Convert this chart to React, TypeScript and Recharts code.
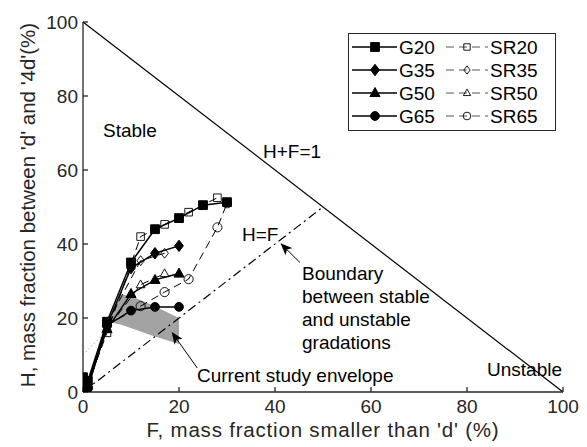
import { Area, ComposedChart, Line, ReferenceLine, XAxis, YAxis } from 'recharts'

const font = '"Liberation Sans", Arial, sans-serif'
const ink = '#262626'

const ticks = [0, 20, 40, 60, 80, 100]

// G series (solid lines, filled markers)
const g20 = [
  { F: 0, H: 4 },
  { F: 1, H: 3 },
  { F: 5, H: 19 },
  { F: 10, H: 35 },
  { F: 15, H: 44 },
  { F: 20, H: 47 },
  { F: 25, H: 50.5 },
  { F: 30, H: 51.3 },
]
const g35 = [
  { F: 0, H: 3 },
  { F: 1, H: 2 },
  { F: 5, H: 18 },
  { F: 10, H: 33.5 },
  { F: 15, H: 37.5 },
  { F: 20, H: 39.5 },
]
const g50 = [
  { F: 0, H: 2 },
  { F: 1, H: 2 },
  { F: 5, H: 17 },
  { F: 10, H: 26.5 },
  { F: 15, H: 30.3 },
  { F: 20, H: 32 },
]
const g65 = [
  { F: 0, H: 1 },
  { F: 1, H: 1 },
  { F: 5, H: 18 },
  { F: 10, H: 22 },
  { F: 15, H: 23 },
  { F: 20, H: 23 },
]

// SR series (dashed lines, open markers)
const sr20 = [
  { F: 1, H: 2 },
  { F: 5, H: 16 },
  { F: 12, H: 42 },
  { F: 17, H: 45.3 },
  { F: 22, H: 48.6 },
  { F: 28, H: 52.5 },
]
const sr35 = [
  { F: 1, H: 1.5 },
  { F: 5, H: 18.5 },
  { F: 12, H: 35.5 },
  { F: 17, H: 37.5 },
]
const sr50 = [
  { F: 1, H: 1.5 },
  { F: 5, H: 17 },
  { F: 12, H: 29 },
  { F: 17, H: 32 },
]
const sr65 = [
  { F: 1, H: 1 },
  { F: 5, H: 18 },
  { F: 12, H: 23.2 },
  { F: 17, H: 27 },
  { F: 22, H: 30.5 },
  { F: 28, H: 44.5 },
  { F: 30, H: 51 },
]

// current study envelope: [lower, upper] H at each F
const envelope = [
  { F: 5, range: [19, 19] },
  { F: 8, range: [18.2, 26.5] },
  { F: 11, range: [16.8, 25.4] },
  { F: 14, range: [15.4, 23.7] },
  { F: 17, range: [14.2, 21.9] },
  { F: 20, range: [13, 20] },
]

type Shape = 'square' | 'diamond' | 'triangle' | 'circle'

const series: { name: string; data: { F: number; H: number }[]; shape: Shape; filled: boolean }[] = [
  { name: 'G20', data: g20, shape: 'square', filled: true },
  { name: 'SR20', data: sr20, shape: 'square', filled: false },
  { name: 'G35', data: g35, shape: 'diamond', filled: true },
  { name: 'SR35', data: sr35, shape: 'diamond', filled: false },
  { name: 'G50', data: g50, shape: 'triangle', filled: true },
  { name: 'SR50', data: sr50, shape: 'triangle', filled: false },
  { name: 'G65', data: g65, shape: 'circle', filled: true },
  { name: 'SR65', data: sr65, shape: 'circle', filled: false },
]

function Mark({ shape, cx, cy, filled, s }: { shape: Shape; cx: number; cy: number; filled: boolean; s: number }) {
  const fill = filled ? '#000' : 'none'
  const stroke = '#000'
  const sw = filled ? 1 : 0.9
  if (shape === 'circle') return <circle cx={cx} cy={cy} r={filled ? s : s * 1.2} fill={fill} stroke={stroke} strokeWidth={sw} />
  let d = ''
  if (shape === 'square') d = `M${cx - s},${cy - s}h${2 * s}v${2 * s}h${-2 * s}z`
  if (shape === 'diamond') d = `M${cx},${cy - s * 1.3}L${cx + s},${cy}L${cx},${cy + s * 1.3}L${cx - s},${cy}z`
  if (shape === 'triangle') d = `M${cx},${cy - s * 1.25}L${cx + s * 1.15},${cy + s * 0.8}L${cx - s * 1.15},${cy + s * 0.8}z`
  return <path d={d} fill={fill} stroke={stroke} strokeWidth={sw} />
}

function LegendBox() {
  const rows = [
    ['G20', 'SR20', 'square'],
    ['G35', 'SR35', 'diamond'],
    ['G50', 'SR50', 'triangle'],
    ['G65', 'SR65', 'circle'],
  ] as const
  return (
    <g>
      <rect x={348.5} y={33.5} width={207} height={97} fill="#fff" stroke={ink} strokeWidth={1} />
      {rows.map(([g, sr, shape], i) => {
        const y = 47 + i * 23
        return (
          <g key={g}>
            <line x1={352} x2={397} y1={y} y2={y} stroke="#000" strokeWidth={1.4} />
            <Mark shape={shape} cx={375} cy={y} filled s={4.4} />
            <text x={399} y={y} dy="0.35em" fontSize={19} fontFamily={font} fill="#000">
              {g}
            </text>
            <line x1={446} x2={488} y1={y} y2={y} stroke="#555" strokeWidth={1} strokeDasharray="8 5" />
            <Mark shape={shape} cx={467} cy={y} filled={false} s={3.2} />
            <text x={490} y={y} dy="0.35em" fontSize={19} fontFamily={font} fill="#000">
              {sr}
            </text>
          </g>
        )
      })}
    </g>
  )
}

const txt = { fontSize: 19, fontFamily: font, fill: '#000' }

export default function App() {
  return (
    <div style={{ position: 'absolute', left: 0, top: 0, width: 587, height: 447, background: '#fff' }}>
      <ComposedChart width={587} height={447} margin={{ top: 22, right: 24, bottom: 0, left: 0 }}>
        <defs>
          <marker id="arrow" viewBox="0 0 12 10" refX="11" refY="5" markerWidth="12" markerHeight="10" markerUnits="userSpaceOnUse" orient="auto">
            <path d="M0,0 L12,5 L0,10 L3,5 z" fill="#000" />
          </marker>
        </defs>
        <XAxis
          type="number"
          dataKey="F"
          domain={[0, 100]}
          ticks={ticks}
          height={55}
          tickSize={-5}
          tickMargin={13}
          stroke={ink}
          strokeWidth={1.3}
          tick={{ fill: ink, fontSize: 19, fontFamily: font }}
          allowDataOverflow
        />
        <XAxis xAxisId="top" orientation="top" type="number" dataKey="F" domain={[0, 100]} ticks={ticks} height={0} tickSize={-5} tick={false} stroke={ink} strokeWidth={1.3} />
        <YAxis
          type="number"
          domain={[0, 100]}
          ticks={ticks}
          width={83}
          tickSize={-5}
          tickMargin={10}
          stroke={ink}
          strokeWidth={1.3}
          tick={{ fill: ink, fontSize: 19, fontFamily: font }}
          allowDataOverflow
        />
        <YAxis yAxisId="right" orientation="right" type="number" domain={[0, 100]} ticks={ticks} width={0} tickSize={-5} tick={false} stroke={ink} strokeWidth={1.3} />

        <Area data={envelope} dataKey="range" type="linear" fill="#a3a3a3" fillOpacity={1} stroke="none" isAnimationActive={false} dot={false} activeDot={false} />

        <ReferenceLine segment={[{ x: 0, y: 100 }, { x: 100, y: 0 }]} stroke="#000" strokeWidth={1.2} />
        <ReferenceLine segment={[{ x: 0, y: 0 }, { x: 50, y: 50 }]} stroke="#000" strokeWidth={1.2} strokeDasharray="9 4 2 4" />
        <ReferenceLine segment={[{ x: 0, y: 10 }, { x: 6, y: 18 }]} stroke="#666" strokeWidth={0.8} strokeDasharray="1 3" />
        <ReferenceLine segment={[{ x: 45.2, y: 35 }, { x: 41.3, y: 40 }]} stroke="#000" strokeWidth={1} markerEnd="url(#arrow)" />
        <ReferenceLine segment={[{ x: 23.8, y: 6.5 }, { x: 18.6, y: 16 }]} stroke="#000" strokeWidth={1} markerEnd="url(#arrow)" />

        {series.map((s) => (
          <Line
            key={s.name}
            data={s.data}
            dataKey="H"
            type="linear"
            stroke="#000"
            strokeWidth={s.filled ? 1.5 : 1}
            strokeDasharray={s.filled ? undefined : '8 5'}
            isAnimationActive={false}
            activeDot={false}
            dot={(p: any) => (
              <Mark key={`${s.name}-${p.index}`} shape={s.shape} cx={p.cx} cy={p.cy} filled={s.filled} s={s.filled ? 4.4 : 3.8} />
            )}
          />
        ))}

        <text x={103} y={137} {...txt}>Stable</text>
        <text x={263} y={158} {...txt}>H+F=1</text>
        <text x={242} y={241} {...txt}>H=F</text>
        <text x={302} y={280} {...txt}>Boundary</text>
        <text x={302} y={303} {...txt}>between stable</text>
        <text x={302} y={326} {...txt}>and unstable</text>
        <text x={302} y={349} {...txt}>gradations</text>
        <text x={197} y={382} {...txt}>Current study envelope</text>
        <text x={487} y={376} {...txt}>Unstable</text>

        <LegendBox />

        <text x={323} y={437} textAnchor="middle" fontSize={20.5} letterSpacing={0.8} fontFamily={font} fill={ink}>
          F, mass fraction smaller than 'd' (%)
        </text>
        <text x={27} y={205} transform="rotate(-90 27 205)" textAnchor="middle" dominantBaseline="central" fontSize={20.5} fontFamily={font} fill={ink}>
          H, mass fraction between 'd' and '4d'(%)
        </text>
      </ComposedChart>
    </div>
  )
}
